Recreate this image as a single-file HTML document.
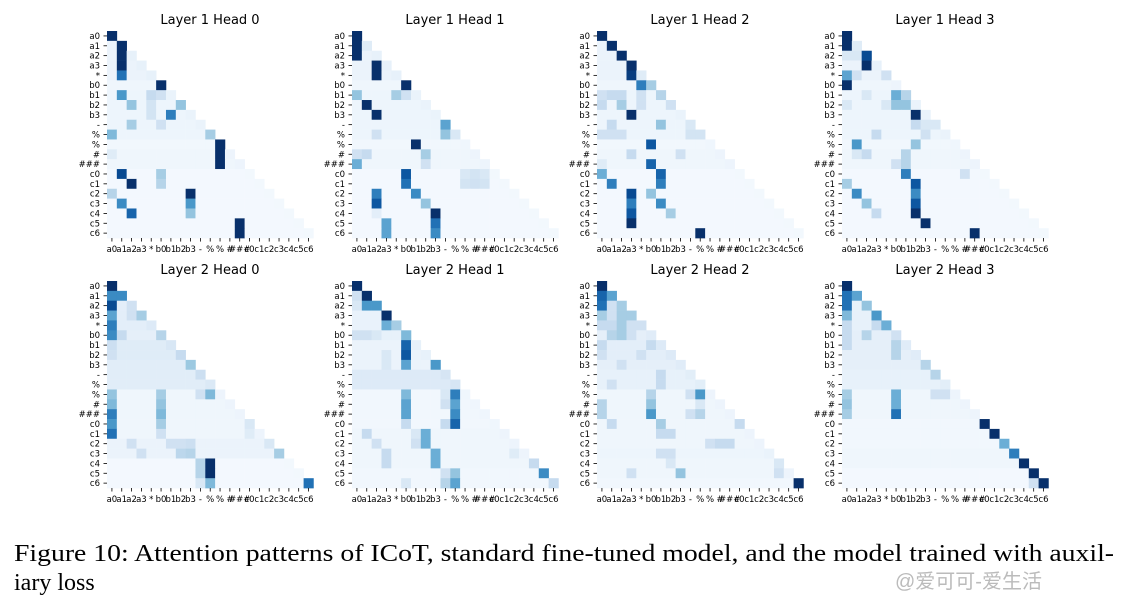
<!DOCTYPE html>
<html><head><meta charset="utf-8"><style>
body{margin:0;background:#fff;width:1129px;height:607px;overflow:hidden}
svg{display:block}
</style></head><body>
<svg id="fig" width="1129" height="607" viewBox="0 0 1129 607" xmlns="http://www.w3.org/2000/svg">
<text x="14" y="561" font-family="Liberation Serif, serif" font-size="24" textLength="1100" lengthAdjust="spacingAndGlyphs">Figure 10: Attention patterns of ICoT, standard fine-tuned model, and the model trained with auxil-</text>
<text x="14" y="590" font-family="Liberation Serif, serif" font-size="24">iary loss</text>
<text x="895" y="588" font-family="Liberation Sans, Noto Sans CJK SC, sans-serif" font-size="20" fill="#bbb">@爱可可-爱生活</text>
</svg>
<script>
const tokens = ["a0","a1","a2","a3","*","b0","b1","b2","b3","-","%","%","#","###","c0","c1","c2","c3","c4","c5","c6"];
const titles = ["Layer 1 Head 0","Layer 1 Head 1","Layer 1 Head 2","Layer 1 Head 3","Layer 2 Head 0","Layer 2 Head 1","Layer 2 Head 2","Layer 2 Head 3"];
const base_L1 = [0.02,0.06,0.06,0.06,0.06,0.04,0.05,0.05,0.05,0.05,0.05,0.03,0.04,0.04,0.02,0.02,0.02,0.02,0.02,0.02,0.02];
const base_L2H0 = [0.1,0.1,0.1,0.1,0.1,0.09,0.12,0.12,0.11,0.11,0.11,0.04,0.04,0.04,0.04,0.04,0.06,0.06,0.02,0.02,0.02];
const base_L2H1 = [0.07,0.07,0.07,0.07,0.07,0.08,0.06,0.06,0.06,0.13,0.13,0.03,0.03,0.03,0.03,0.04,0.04,0.04,0.04,0.03,0.03];
const base_L2H2 = [0.09,0.09,0.09,0.09,0.09,0.09,0.1,0.1,0.09,0.08,0.08,0.04,0.04,0.04,0.04,0.04,0.04,0.05,0.04,0.04,0.03];
const base_L2H3 = [0.08,0.08,0.08,0.08,0.08,0.09,0.09,0.09,0.09,0.08,0.08,0.04,0.04,0.04,0.03,0.03,0.03,0.04,0.04,0.02,0.02];
const hot_L1H0 = [[0,0,1],[1,1,1],[2,1,1],[3,1,1],[4,1,0.75],[5,5,1],[6,1,0.6],[6,4,0.25],[6,5,0.2],[7,2,0.4],[7,7,0.4],[7,4,0.18],[8,6,0.7],[8,4,0.18],[9,2,0.35],[9,5,0.2],[10,0,0.45],[10,10,0.35],[11,11,1],[12,11,1],[13,11,1],[12,0,0.12],[14,1,0.9],[14,5,0.35],[15,2,1],[15,5,0.3],[16,0,0.3],[16,8,1],[17,1,0.65],[17,8,0.6],[18,2,0.8],[18,8,0.4],[19,13,1],[20,13,1]];
const hot_L1H1 = [[0,0,1],[1,0,1],[1,1,0.12],[2,0,1],[3,2,1],[4,2,1],[5,5,1],[6,0,0.4],[6,4,0.35],[6,5,0.2],[7,1,1],[8,2,1],[9,9,0.55],[10,9,0.4],[10,2,0.2],[10,10,0.15],[11,6,1],[12,0,0.2],[12,1,0.25],[12,7,0.35],[13,0,0.5],[13,7,0.2],[14,5,0.85],[14,11,0.15],[14,12,0.18],[14,13,0.15],[15,5,0.75],[15,11,0.18],[15,12,0.2],[15,13,0.18],[16,2,0.7],[16,6,0.65],[17,2,0.85],[17,7,0.4],[18,8,1],[18,2,0.1],[19,3,0.55],[19,8,0.75],[20,3,0.55],[20,8,0.65]];
const hot_L1H2 = [[0,0,1],[1,1,1],[2,2,1],[3,3,1],[4,3,0.95],[4,4,0.12],[5,4,0.7],[5,5,0.35],[6,0,0.2],[6,1,0.25],[6,2,0.25],[6,4,0.2],[6,6,0.3],[7,0,0.25],[7,2,0.35],[7,4,0.2],[7,7,0.2],[8,3,1],[9,1,0.25],[9,6,0.4],[9,9,0.15],[10,0,0.2],[10,1,0.2],[10,2,0.2],[10,9,0.18],[10,10,0.18],[11,5,0.85],[12,3,0.25],[12,8,0.2],[13,5,0.8],[13,0,0.12],[14,0,0.5],[14,6,0.8],[15,1,0.7],[15,6,0.7],[16,3,0.9],[16,5,0.4],[17,3,0.7],[17,6,0.65],[18,3,0.85],[18,7,0.35],[19,3,1],[20,10,1]];
const hot_L1H3 = [[0,0,1],[1,0,1],[1,1,0.12],[2,2,0.9],[2,0,0.15],[2,1,0.15],[3,2,1],[4,0,0.55],[4,1,0.2],[4,4,0.2],[5,0,1],[6,5,0.5],[6,6,0.3],[6,2,0.15],[7,5,0.4],[7,6,0.4],[7,0,0.15],[7,4,0.15],[8,7,1],[9,7,0.25],[9,8,0.15],[9,9,0.15],[10,3,0.25],[10,8,0.2],[11,1,0.6],[11,7,0.4],[12,2,0.25],[12,6,0.3],[12,1,0.15],[13,6,0.3],[13,5,0.2],[14,6,0.7],[14,12,0.2],[15,0,0.35],[15,7,0.85],[16,1,0.65],[16,7,0.65],[17,2,0.4],[17,7,0.85],[18,3,0.25],[18,7,1],[19,8,1],[20,13,1]];
const hot_L2H0 = [[0,0,1],[1,0,0.65],[1,1,0.65],[2,0,0.9],[2,2,0.2],[3,0,0.55],[3,2,0.2],[3,3,0.35],[4,0,0.7],[5,0,0.65],[5,1,0.25],[5,5,0.3],[6,0,0.22],[7,0,0.2],[7,7,0.25],[8,8,0.38],[9,9,0.22],[11,0,0.4],[11,5,0.35],[11,9,0.2],[11,10,0.45],[12,0,0.45],[12,5,0.4],[13,0,0.7],[13,5,0.45],[14,0,0.6],[14,5,0.35],[14,14,0.15],[15,0,0.75],[15,5,0.2],[15,14,0.12],[16,2,0.2],[16,6,0.2],[16,7,0.2],[16,8,0.22],[16,16,0.15],[17,3,0.2],[17,7,0.28],[17,8,0.3],[17,17,0.35],[18,9,0.3],[18,10,1],[19,9,0.3],[19,10,1],[20,9,0.15],[20,10,0.45],[20,20,0.75]];
const hot_L2H1 = [[0,0,1],[1,0,0.2],[1,1,1],[2,0,0.15],[2,1,0.6],[2,2,0.6],[3,3,1],[4,3,0.5],[4,4,0.35],[5,0,0.2],[5,1,0.2],[5,2,0.15],[5,5,0.45],[6,5,0.8],[7,5,0.85],[7,3,0.15],[8,5,0.55],[8,8,0.6],[8,3,0.15],[11,5,0.45],[11,10,0.7],[11,9,0.15],[12,5,0.55],[12,10,0.55],[12,9,0.2],[13,5,0.55],[13,10,0.65],[14,5,0.25],[14,9,0.25],[14,10,0.8],[15,1,0.25],[15,7,0.5],[15,6,0.15],[16,2,0.2],[16,6,0.2],[16,7,0.5],[17,3,0.25],[17,8,0.5],[17,16,0.12],[18,3,0.25],[18,8,0.5],[18,18,0.25],[19,10,0.4],[19,9,0.2],[19,19,0.65],[20,10,0.55],[20,9,0.3],[20,20,0.25],[20,5,0.15]];
const hot_L2H2 = [[0,0,1],[1,0,0.8],[1,1,0.55],[2,0,0.75],[2,1,0.2],[2,2,0.35],[3,0,0.35],[3,1,0.2],[3,2,0.35],[3,3,0.35],[4,0,0.25],[4,1,0.25],[4,2,0.35],[4,3,0.2],[4,4,0.2],[5,1,0.3],[5,2,0.35],[5,3,0.2],[6,0,0.25],[6,5,0.25],[7,0,0.2],[7,4,0.2],[8,2,0.2],[9,6,0.25],[10,1,0.2],[10,6,0.25],[11,5,0.3],[11,9,0.2],[11,10,0.6],[12,0,0.3],[12,5,0.4],[12,10,0.15],[13,0,0.3],[13,5,0.6],[13,10,0.3],[13,9,0.2],[14,1,0.25],[14,6,0.35],[14,14,0.25],[15,6,0.25],[15,7,0.25],[16,11,0.2],[16,12,0.25],[16,13,0.25],[17,6,0.2],[17,7,0.2],[18,7,0.15],[18,18,0.15],[19,3,0.2],[19,8,0.4],[19,18,0.2],[20,20,1]];
const hot_L2H3 = [[0,0,1],[1,0,0.75],[1,1,0.55],[2,0,0.75],[2,2,0.4],[3,0,0.45],[3,3,0.6],[4,0,0.25],[4,3,0.25],[4,4,0.5],[5,0,0.25],[5,2,0.3],[5,5,0.2],[6,5,0.3],[6,0,0.25],[7,5,0.3],[8,8,0.3],[9,9,0.3],[11,0,0.35],[11,5,0.5],[11,9,0.2],[11,10,0.2],[12,0,0.4],[12,5,0.5],[13,0,0.35],[13,5,0.75],[14,14,1],[15,15,1],[16,16,0.5],[17,17,0.7],[18,18,1],[19,19,1],[20,20,1],[20,19,0.2]];
const panelBase = [base_L1,base_L1,base_L1,base_L1,base_L2H0,base_L2H1,base_L2H2,base_L2H3];
const panelHot = [hot_L1H0,hot_L1H1,hot_L1H2,hot_L1H3,hot_L2H0,hot_L2H1,hot_L2H2,hot_L2H3];

const stops = ["#f7fbff","#deebf7","#c6dbef","#9ecae1","#6baed6","#4292c6","#2171b5","#08519c","#08306b"].map(h=>[parseInt(h.slice(1,3),16),parseInt(h.slice(3,5),16),parseInt(h.slice(5,7),16)]);
function blues(v){v=Math.max(0,Math.min(1,v));const t=v*8,i=Math.min(7,Math.floor(t)),f=t-i;const a=stops[i],b=stops[i+1];return "rgb("+a.map((c,k)=>Math.round(c+(b[k]-c)*f)).join(",")+")";}
const NS="http://www.w3.org/2000/svg";
const svg=document.getElementById('fig');
const CW=9.83, CH=9.86;
const X0=[107,352,597,842], Y0=[31,281];
function mk(tag,attrs,parent){const e=document.createElementNS(NS,tag);for(const k in attrs)e.setAttribute(k,attrs[k]);parent.appendChild(e);return e;}
for(let p=0;p<8;p++){
  const x0=X0[p%4], y0=Y0[Math.floor(p/4)];
  const g=mk('g',{},svg);
  
  
  const m=[];
  for(let r=0;r<21;r++){m.push([]);for(let c=0;c<=r;c++)m[r].push(panelBase[p][r]*(c===r?1.3:1));}
  panelHot[p].forEach(([r,c,v])=>{if(c<=r)m[r][c]=v;});
  const xs=c=>x0+c*CW, ys=r=>y0+r*CH;
  for(let r=0;r<21;r++)for(let c=0;c<=r;c++){
    const rc=mk('rect',{x:xs(c).toFixed(2),y:ys(r).toFixed(2),width:(CW+0.3).toFixed(2),height:(CH+0.3).toFixed(2),fill:blues(m[r][c])},g);
    
    
  }
  const t=mk('text',{x:x0+103,y:y0-7,'text-anchor':'middle','font-family':'DejaVu Sans, sans-serif','font-size':'13'},g);
  t.textContent=titles[p];
  
  
  for(let i=0;i<21;i++){
    mk('line',{x1:x0-3.5,x2:x0,y1:ys(i)+CH/2,y2:ys(i)+CH/2,stroke:'#000','stroke-width':0.8},g);
    const yl=mk('text',{x:x0-7,y:ys(i)+CH/2+3,'text-anchor':'end','font-family':'DejaVu Sans, sans-serif','font-size':'8.5'},g);
    yl.textContent=tokens[i];
    
    
    const yb=y0+21*CH;
    mk('line',{x1:xs(i)+CW/2,x2:xs(i)+CW/2,y1:yb,y2:yb+3.5,stroke:'#000','stroke-width':0.8},g);
    const xl=mk('text',{x:xs(i)+CW/2,y:yb+14,'text-anchor':'middle','font-family':'DejaVu Sans, sans-serif','font-size':'8.5'},g);
    xl.textContent=tokens[i];
    
    
  }
}
</script>
</body></html>
